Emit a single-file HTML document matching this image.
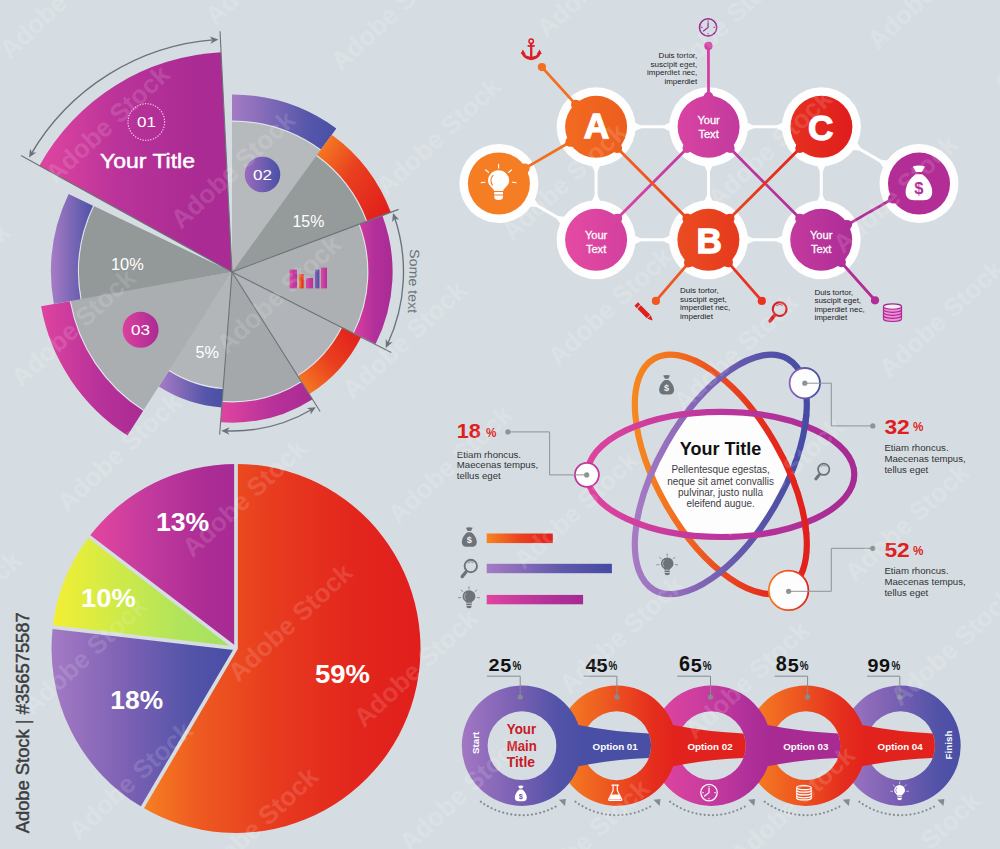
<!DOCTYPE html>
<html lang="en"><head><meta charset="utf-8"><title>Infographic charts</title>
<style>
html,body{margin:0;padding:0;background:#d6dde2;}
svg{display:block;font-family:'Liberation Sans', sans-serif;}
</style></head>
<body>
<svg width="1000" height="849" viewBox="0 0 1000 849">
<defs>
<linearGradient id="g1" gradientUnits="userSpaceOnUse" x1="232" y1="0" x2="338" y2="0"><stop offset="0" stop-color="#a57bc4"/><stop offset="0.75" stop-color="#5355a9"/><stop offset="1" stop-color="#4a50a6"/></linearGradient>
<linearGradient id="g2" gradientUnits="userSpaceOnUse" x1="318" y1="150" x2="390" y2="200"><stop offset="0" stop-color="#f57a22"/><stop offset="0.45" stop-color="#e9401f"/><stop offset="1" stop-color="#e2211c"/></linearGradient>
<linearGradient id="g3" gradientUnits="userSpaceOnUse" x1="355" y1="0" x2="393" y2="0"><stop offset="0" stop-color="#d63e9f"/><stop offset="0.5" stop-color="#b3309a"/><stop offset="1" stop-color="#a92b93"/></linearGradient>
<linearGradient id="g4" gradientUnits="userSpaceOnUse" x1="300" y1="385" x2="358" y2="335"><stop offset="0" stop-color="#f57a22"/><stop offset="0.5" stop-color="#e9401f"/><stop offset="1" stop-color="#e2211c"/></linearGradient>
<linearGradient id="g5" gradientUnits="userSpaceOnUse" x1="221" y1="0" x2="312" y2="0"><stop offset="0" stop-color="#e0449f"/><stop offset="0.55" stop-color="#b8329a"/><stop offset="1" stop-color="#a92b93"/></linearGradient>
<linearGradient id="g6" gradientUnits="userSpaceOnUse" x1="160" y1="0" x2="222" y2="0"><stop offset="0" stop-color="#a57bc4"/><stop offset="0.75" stop-color="#5355a9"/><stop offset="1" stop-color="#4a50a6"/></linearGradient>
<linearGradient id="g7" gradientUnits="userSpaceOnUse" x1="40" y1="0" x2="145" y2="0"><stop offset="0" stop-color="#e0449f"/><stop offset="0.55" stop-color="#b8329a"/><stop offset="1" stop-color="#a92b93"/></linearGradient>
<linearGradient id="g8" gradientUnits="userSpaceOnUse" x1="52" y1="0" x2="95" y2="0"><stop offset="0" stop-color="#a57bc4"/><stop offset="1" stop-color="#4a50a6"/></linearGradient>
<linearGradient id="g9" gradientUnits="userSpaceOnUse" x1="40" y1="0" x2="200" y2="0"><stop offset="0" stop-color="#e0449f"/><stop offset="0.5" stop-color="#b9339a"/><stop offset="1" stop-color="#a92b93"/></linearGradient>
<linearGradient id="g10" gradientUnits="userSpaceOnUse" x1="245" y1="0" x2="280" y2="0"><stop offset="0" stop-color="#9a6bbd"/><stop offset="1" stop-color="#4a50a6"/></linearGradient>
<linearGradient id="g11" gradientUnits="userSpaceOnUse" x1="122" y1="0" x2="159" y2="0"><stop offset="0" stop-color="#dd419e"/><stop offset="1" stop-color="#a92b93"/></linearGradient>
<linearGradient id="g12" gradientUnits="userSpaceOnUse" x1="0" y1="0" x2="1" y2="0"><stop offset="0" stop-color="#e0449f"/><stop offset="1" stop-color="#a92b93"/></linearGradient>
<linearGradient id="g13" gradientUnits="userSpaceOnUse" x1="289.6" y1="0" x2="297" y2="0"><stop offset="0" stop-color="#dd48a2"/><stop offset="1" stop-color="#b3309a"/></linearGradient>
<linearGradient id="g14" gradientUnits="userSpaceOnUse" x1="299" y1="0" x2="303.6" y2="0"><stop offset="0" stop-color="#f57a22"/><stop offset="1" stop-color="#e2211c"/></linearGradient>
<linearGradient id="g15" gradientUnits="userSpaceOnUse" x1="306" y1="0" x2="313" y2="0"><stop offset="0" stop-color="#dd48a2"/><stop offset="1" stop-color="#b3309a"/></linearGradient>
<linearGradient id="g16" gradientUnits="userSpaceOnUse" x1="315" y1="0" x2="319.4" y2="0"><stop offset="0" stop-color="#8b62b5"/><stop offset="1" stop-color="#4a50a6"/></linearGradient>
<linearGradient id="g17" gradientUnits="userSpaceOnUse" x1="321" y1="0" x2="327" y2="0"><stop offset="0" stop-color="#dd48a2"/><stop offset="1" stop-color="#b3309a"/></linearGradient>
<linearGradient id="g18" gradientUnits="userSpaceOnUse" x1="685" y1="150" x2="620" y2="216"><stop offset="0" stop-color="#c23b9f"/><stop offset="1" stop-color="#d845a4"/></linearGradient>
<linearGradient id="g19" gradientUnits="userSpaceOnUse" x1="732" y1="150" x2="798" y2="216"><stop offset="0" stop-color="#bd399e"/><stop offset="1" stop-color="#b2309a"/></linearGradient>
<linearGradient id="g20" gradientUnits="userSpaceOnUse" x1="618" y1="148" x2="686" y2="218"><stop offset="0" stop-color="#f0651f"/><stop offset="1" stop-color="#e8451f"/></linearGradient>
<linearGradient id="g21" gradientUnits="userSpaceOnUse" x1="798" y1="150" x2="732" y2="216"><stop offset="0" stop-color="#e2231d"/><stop offset="1" stop-color="#e8451f"/></linearGradient>
<linearGradient id="g22" gradientUnits="userSpaceOnUse" x1="467.9" y1="0" x2="529.9" y2="0"><stop offset="0" stop-color="#f57d23"/><stop offset="1" stop-color="#f57d23"/></linearGradient>
<linearGradient id="g23" gradientUnits="userSpaceOnUse" x1="565.1" y1="0" x2="627.1" y2="0"><stop offset="0" stop-color="#f26a20"/><stop offset="1" stop-color="#ec5d1e"/></linearGradient>
<linearGradient id="g24" gradientUnits="userSpaceOnUse" x1="677.6" y1="0" x2="739.6" y2="0"><stop offset="0" stop-color="#d943a2"/><stop offset="1" stop-color="#c23a9e"/></linearGradient>
<linearGradient id="g25" gradientUnits="userSpaceOnUse" x1="790.4" y1="0" x2="852.4" y2="0"><stop offset="0" stop-color="#e6301f"/><stop offset="1" stop-color="#e01d1d"/></linearGradient>
<linearGradient id="g26" gradientUnits="userSpaceOnUse" x1="888" y1="0" x2="950" y2="0"><stop offset="0" stop-color="#b22d96"/><stop offset="1" stop-color="#b22d96"/></linearGradient>
<linearGradient id="g27" gradientUnits="userSpaceOnUse" x1="565.1" y1="0" x2="627.1" y2="0"><stop offset="0" stop-color="#e44aa2"/><stop offset="1" stop-color="#d3409f"/></linearGradient>
<linearGradient id="g28" gradientUnits="userSpaceOnUse" x1="677.4" y1="0" x2="739.4" y2="0"><stop offset="0" stop-color="#eb4c20"/><stop offset="1" stop-color="#e53a1e"/></linearGradient>
<linearGradient id="g29" gradientUnits="userSpaceOnUse" x1="790.2" y1="0" x2="852.2" y2="0"><stop offset="0" stop-color="#c43a9e"/><stop offset="1" stop-color="#ad2d97"/></linearGradient>
<clipPath id="ce0"><ellipse cx="720.8" cy="474.4" rx="133.5" ry="62.6" transform="rotate(0 720.8 474.4)"/></clipPath>
<clipPath id="ce1"><ellipse cx="720.8" cy="474.4" rx="133.5" ry="62.6" transform="rotate(60 720.8 474.4)"/></clipPath>
<clipPath id="ce2"><ellipse cx="720.8" cy="474.4" rx="133.5" ry="62.6" transform="rotate(-60 720.8 474.4)"/></clipPath>
<linearGradient id="g30" gradientUnits="userSpaceOnUse" x1="631" y1="0" x2="811" y2="0" gradientTransform="rotate(-60 720.8 474.4)"><stop offset="0" stop-color="#f68a1f"/><stop offset="0.25" stop-color="#f26f21"/><stop offset="0.5" stop-color="#ea4a20"/><stop offset="0.75" stop-color="#e52c1d"/><stop offset="1" stop-color="#e11f1c"/></linearGradient>
<linearGradient id="g31" gradientUnits="userSpaceOnUse" x1="631" y1="0" x2="811" y2="0" gradientTransform="rotate(60 720.8 474.4)"><stop offset="0" stop-color="#a77cc4"/><stop offset="0.3" stop-color="#8d69b9"/><stop offset="0.6" stop-color="#6659ad"/><stop offset="0.85" stop-color="#4c4fa6"/><stop offset="1" stop-color="#454ba3"/></linearGradient>
<linearGradient id="g32" gradientUnits="userSpaceOnUse" x1="580.8" y1="0" x2="860.8" y2="0"><stop offset="0" stop-color="#e0449f"/><stop offset="0.5" stop-color="#bb369c"/><stop offset="1" stop-color="#a52a93"/></linearGradient>
<clipPath id="cw1"><circle cx="806.6" cy="421.5" r="8"/></clipPath>
<clipPath id="cw2"><circle cx="794.2" cy="474.4" r="8"/></clipPath>
<clipPath id="cw3"><circle cx="806.6" cy="527" r="8"/></clipPath>
<linearGradient id="g33" gradientUnits="userSpaceOnUse" x1="789" y1="0" x2="821" y2="0"><stop offset="0" stop-color="#8b63b7"/><stop offset="1" stop-color="#454ba3"/></linearGradient>
<linearGradient id="g34" gradientUnits="userSpaceOnUse" x1="768" y1="0" x2="809" y2="0"><stop offset="0" stop-color="#f47a20"/><stop offset="1" stop-color="#e1221c"/></linearGradient>
<linearGradient id="g35" gradientUnits="userSpaceOnUse" x1="486.7" y1="0" x2="552.8" y2="0"><stop offset="0" stop-color="#f68520"/><stop offset="0.5" stop-color="#ea4320"/><stop offset="1" stop-color="#e1221c"/></linearGradient>
<linearGradient id="g36" gradientUnits="userSpaceOnUse" x1="486.7" y1="0" x2="611.9" y2="0"><stop offset="0" stop-color="#a67bc4"/><stop offset="0.6" stop-color="#5f58ab"/><stop offset="1" stop-color="#454ba3"/></linearGradient>
<linearGradient id="g37" gradientUnits="userSpaceOnUse" x1="486.7" y1="0" x2="583.1" y2="0"><stop offset="0" stop-color="#e0449f"/><stop offset="0.6" stop-color="#b5329a"/><stop offset="1" stop-color="#a52a93"/></linearGradient>
<linearGradient id="g38" gradientUnits="userSpaceOnUse" x1="840.48" y1="0" x2="960.48" y2="0"><stop offset="0" stop-color="#a277c3"/><stop offset="0.45" stop-color="#7a60b3"/><stop offset="0.8" stop-color="#5253a8"/><stop offset="1" stop-color="#494fa5"/></linearGradient>
<linearGradient id="g39" gradientUnits="userSpaceOnUse" x1="745.86" y1="0" x2="865.86" y2="0"><stop offset="0" stop-color="#f68420"/><stop offset="0.4" stop-color="#ee5a21"/><stop offset="0.8" stop-color="#e52e1d"/><stop offset="1" stop-color="#e2221c"/></linearGradient>
<linearGradient id="g40" gradientUnits="userSpaceOnUse" x1="651.24" y1="0" x2="771.24" y2="0"><stop offset="0" stop-color="#e3469f"/><stop offset="0.45" stop-color="#c83c9e"/><stop offset="0.8" stop-color="#b0309a"/><stop offset="1" stop-color="#a82a93"/></linearGradient>
<linearGradient id="g41" gradientUnits="userSpaceOnUse" x1="556.62" y1="0" x2="676.62" y2="0"><stop offset="0" stop-color="#f68420"/><stop offset="0.4" stop-color="#ee5a21"/><stop offset="0.8" stop-color="#e52e1d"/><stop offset="1" stop-color="#e2221c"/></linearGradient>
<linearGradient id="g42" gradientUnits="userSpaceOnUse" x1="462" y1="0" x2="582" y2="0"><stop offset="0" stop-color="#a277c3"/><stop offset="0.45" stop-color="#7a60b3"/><stop offset="0.8" stop-color="#5253a8"/><stop offset="1" stop-color="#494fa5"/></linearGradient>
<linearGradient id="g43" gradientUnits="userSpaceOnUse" x1="143" y1="0" x2="420" y2="0"><stop offset="0" stop-color="#f68021"/><stop offset="0.2" stop-color="#ee5a21"/><stop offset="0.45" stop-color="#e83d1f"/><stop offset="0.75" stop-color="#e3271d"/><stop offset="1" stop-color="#e11e1c"/></linearGradient>
<linearGradient id="g44" gradientUnits="userSpaceOnUse" x1="51" y1="0" x2="236" y2="0"><stop offset="0" stop-color="#a47ac4"/><stop offset="0.4" stop-color="#7d61b4"/><stop offset="0.75" stop-color="#5354a9"/><stop offset="1" stop-color="#474da4"/></linearGradient>
<linearGradient id="g45" gradientUnits="userSpaceOnUse" x1="53" y1="0" x2="236" y2="0"><stop offset="0" stop-color="#f3ef33"/><stop offset="0.35" stop-color="#cfea48"/><stop offset="0.7" stop-color="#b0e45c"/><stop offset="1" stop-color="#a4e063"/></linearGradient>
<linearGradient id="g46" gradientUnits="userSpaceOnUse" x1="91" y1="0" x2="236" y2="0"><stop offset="0" stop-color="#e3469f"/><stop offset="0.4" stop-color="#c23a9d"/><stop offset="0.8" stop-color="#ab2c95"/><stop offset="1" stop-color="#a82a93"/></linearGradient>
</defs>
<rect x="0" y="0" width="1000" height="849" fill="#d6dde2"/>
<g id="pie-top">
<path d="M232,272 L232,121.4 A150.6,150.6 0 0 1 321.16,150.63 Z" fill="#b7babd"/>
<path d="M232,120 A152,152 0 0 1 321.34,149.03 L320.46,150.24 A150.5,150.5 0 0 0 232,121.5 Z" fill="#e2e4ec"/>
<path d="M232,94.5 A177.5,177.5 0 0 1 336.33,128.4 L321.05,149.43 A151.5,151.5 0 0 0 232,120.5 Z" fill="url(#g1)"/>
<path d="M232,272 L316.41,155.83 A143.6,143.6 0 0 1 366.68,222.18 Z" fill="#959a9b"/>
<path d="M317.23,154.69 A145,145 0 0 1 367.73,220.98 L366.32,221.51 A143.5,143.5 0 0 0 316.35,155.91 Z" fill="#e2e4ec"/>
<path d="M331.75,134.71 A169.7,169.7 0 0 1 390.85,212.29 L367.26,221.16 A144.5,144.5 0 0 0 316.93,155.1 Z" fill="url(#g2)"/>
<path d="M232,272 L358.84,224.33 A135.5,135.5 0 0 1 352.84,333.3 Z" fill="#adb0b3"/>
<path d="M360.15,223.83 A136.9,136.9 0 0 1 354.41,333.3 L353.07,332.63 A135.4,135.4 0 0 0 358.74,224.36 Z" fill="#e2e4ec"/>
<path d="M382.33,215.49 A160.6,160.6 0 0 1 375.6,343.91 L353.96,333.07 A136.4,136.4 0 0 0 359.68,224.01 Z" fill="url(#g3)"/>
<path d="M232,272 L341.44,326.81 A122.4,122.4 0 0 1 297.04,375.69 Z" fill="#b1b4b8"/>
<path d="M342.7,327.43 A123.8,123.8 0 0 1 298.34,376.53 L297.53,375.26 A122.3,122.3 0 0 0 341.36,326.76 Z" fill="#e2e4ec"/>
<path d="M361.29,336.75 A144.6,144.6 0 0 1 309.48,394.09 L298.07,376.11 A123.3,123.3 0 0 0 342.25,327.21 Z" fill="url(#g4)"/>
<path d="M232,272 L301.39,381.34 A129.5,129.5 0 0 1 221.61,401.08 Z" fill="#a5a8ab"/>
<path d="M302.14,382.52 A130.9,130.9 0 0 1 222.19,402.53 L222.3,401.04 A129.4,129.4 0 0 0 301.34,381.26 Z" fill="#e2e4ec"/>
<path d="M312.7,399.16 A150.6,150.6 0 0 1 220.71,422.18 L222.22,402.03 A130.4,130.4 0 0 0 301.87,382.1 Z" fill="url(#g5)"/>
<path d="M232,272 L223.26,388.17 A116.5,116.5 0 0 1 168.72,369.82 Z" fill="#b3b6b9"/>
<path d="M223.16,389.57 A117.9,117.9 0 0 1 168.48,371.33 L169.29,370.06 A116.4,116.4 0 0 0 223.27,388.07 Z" fill="#e2e4ec"/>
<path d="M221.82,407.42 A135.8,135.8 0 0 1 158.83,386.41 L168.75,370.9 A117.4,117.4 0 0 0 223.2,389.07 Z" fill="url(#g6)"/>
<path d="M232,272 L143.7,410.08 A163.9,163.9 0 0 1 70.54,300.18 Z" fill="#abaeb1"/>
<path d="M142.94,411.26 A165.3,165.3 0 0 1 69.31,301.27 L70.79,301.01 A163.8,163.8 0 0 0 143.75,409.99 Z" fill="#e2e4ec"/>
<path d="M127.48,435.44 A194,194 0 0 1 41.07,306.35 L69.8,301.18 A164.8,164.8 0 0 0 143.21,410.84 Z" fill="url(#g7)"/>
<path d="M232,272 L81.32,299.11 A153.1,153.1 0 0 1 93.81,206.09 Z" fill="#939898"/>
<path d="M79.94,299.36 A154.5,154.5 0 0 1 92.55,205.49 L93.9,206.13 A153,153 0 0 0 81.42,299.09 Z" fill="#e2e4ec"/>
<path d="M53.86,304.05 A181,181 0 0 1 68.63,194.08 L93,205.7 A154,154 0 0 0 80.43,299.27 Z" fill="url(#g8)"/>
<path d="M232,272 L39.4,165.68 A220,220 0 0 1 221.06,52.27 Z" fill="url(#g9)"/>
<line x1="232" y1="272" x2="220.02" y2="31.3" stroke="#6b7378" stroke-width="1.1"/>
<line x1="232" y1="272" x2="21.01" y2="155.53" stroke="#6b7378" stroke-width="1.1"/>
<line x1="232" y1="272" x2="398.62" y2="209.37" stroke="#6b7378" stroke-width="1.1"/>
<line x1="232" y1="272" x2="391.33" y2="352.48" stroke="#6b7378" stroke-width="1.1"/>
<line x1="232" y1="272" x2="320.17" y2="411.47" stroke="#6b7378" stroke-width="1.1"/>
<line x1="232" y1="272" x2="219.64" y2="434.53" stroke="#6b7378" stroke-width="1.1"/>
<path d="M30.42,155.15 A233,233 0 0 1 215.54,39.58" fill="none" stroke="#6b7378" stroke-width="1.35"/>
<path d="M29.01,157.62 L30.04,148.68 L32.04,152.55 L36.39,152.48 Z" fill="#6b7378"/>
<path d="M218.38,39.4 L210.53,43.78 L212.5,39.9 L209.9,36.4 Z" fill="#6b7378"/>
<path d="M394.35,216.73 A171.5,171.5 0 0 1 387.43,344.48" fill="none" stroke="#6b7378" stroke-width="1.35"/>
<path d="M393.05,213.06 L399.18,219.65 L394.94,218.66 L392.16,222.01 Z" fill="#6b7378"/>
<path d="M385.75,347.99 L385.83,338.99 L388.22,342.63 L392.55,342.09 Z" fill="#6b7378"/>
<path d="M312.7,409 A159,159 0 0 1 224.93,430.84" fill="none" stroke="#6b7378" stroke-width="1.35"/>
<path d="M315.79,407.13 L310.57,414.46 L310.69,410.11 L306.84,408.08 Z" fill="#6b7378"/>
<path d="M221.32,430.64 L229.67,427.28 L227.22,430.88 L229.37,434.67 Z" fill="#6b7378"/>
<circle cx="146.3" cy="122" r="18.3" fill="none" stroke="#f6d3ec" stroke-width="1.3" stroke-dasharray="0.1 2.55" stroke-linecap="round"/>
<text x="146.6" y="127" font-size="14" fill="#fff" font-weight="normal" text-anchor="middle" textLength="19" lengthAdjust="spacingAndGlyphs">01</text>
<text x="147.5" y="167.5" font-size="20" fill="#fff" font-weight="normal" text-anchor="middle" stroke="#fff" stroke-width="0.45" textLength="95" lengthAdjust="spacingAndGlyphs">Your Title</text>
<circle cx="262.5" cy="174.5" r="17.8" fill="url(#g10)"/>
<text x="262.5" y="179.5" font-size="14" fill="#fff" font-weight="normal" text-anchor="middle" textLength="19" lengthAdjust="spacingAndGlyphs">02</text>
<circle cx="140.6" cy="329.8" r="18" fill="url(#g11)"/>
<text x="140.6" y="334.8" font-size="14" fill="#fff" font-weight="normal" text-anchor="middle" textLength="19" lengthAdjust="spacingAndGlyphs">03</text>
<text x="308.4" y="226.5" font-size="17.3" fill="#fff" font-weight="normal" text-anchor="middle" textLength="31.8" lengthAdjust="spacingAndGlyphs">15%</text>
<text x="127.4" y="269.8" font-size="17.3" fill="#fff" font-weight="normal" text-anchor="middle" textLength="32.8" lengthAdjust="spacingAndGlyphs">10%</text>
<text x="207.3" y="357.8" font-size="17.3" fill="#fff" font-weight="normal" text-anchor="middle" textLength="23.5" lengthAdjust="spacingAndGlyphs">5%</text>
<text transform="translate(408.9,281) rotate(92)" font-size="13.5" fill="#6b7378" text-anchor="middle" textLength="64" lengthAdjust="spacingAndGlyphs">Some text</text>
<rect x="289.6" y="269.6" width="7.4" height="18.8" fill="url(#g13)"/>
<rect x="299" y="274" width="4.6" height="14.4" fill="url(#g14)"/>
<rect x="306" y="278" width="7" height="10.4" fill="url(#g15)"/>
<rect x="315" y="269.6" width="4.4" height="18.8" fill="url(#g16)"/>
<rect x="321" y="267.6" width="6" height="20.8" fill="url(#g17)"/>
</g>
<g id="network">
<line x1="596.1" y1="126.8" x2="708.6" y2="126.8" stroke="#fefefe" stroke-width="3"/>
<path d="M634.6,131.2 Q637.8,129.5 641,128.2 L641,125.4 Q637.8,124.1 634.6,122.4 Z" fill="#fefefe"/>
<path d="M670.1,122.4 Q666.9,124.1 663.7,125.4 L663.7,128.2 Q666.9,129.5 670.1,131.2 Z" fill="#fefefe"/>
<line x1="708.6" y1="126.8" x2="821.4" y2="126.8" stroke="#fefefe" stroke-width="3"/>
<path d="M747.1,131.2 Q750.3,129.5 753.5,128.2 L753.5,125.4 Q750.3,124.1 747.1,122.4 Z" fill="#fefefe"/>
<path d="M782.9,122.4 Q779.7,124.1 776.5,125.4 L776.5,128.2 Q779.7,129.5 782.9,131.2 Z" fill="#fefefe"/>
<line x1="596.1" y1="239.8" x2="708.4" y2="239.8" stroke="#fefefe" stroke-width="3"/>
<path d="M634.6,244.2 Q637.8,242.5 641,241.2 L641,238.4 Q637.8,237.1 634.6,235.4 Z" fill="#fefefe"/>
<path d="M669.9,235.4 Q666.7,237.1 663.5,238.4 L663.5,241.2 Q666.7,242.5 669.9,244.2 Z" fill="#fefefe"/>
<line x1="708.4" y1="239.8" x2="821.2" y2="239.8" stroke="#fefefe" stroke-width="3"/>
<path d="M746.9,244.2 Q750.1,242.5 753.3,241.2 L753.3,238.4 Q750.1,237.1 746.9,235.4 Z" fill="#fefefe"/>
<path d="M782.7,235.4 Q779.5,237.1 776.3,238.4 L776.3,241.2 Q779.5,242.5 782.7,244.2 Z" fill="#fefefe"/>
<line x1="596.1" y1="126.8" x2="596.1" y2="239.8" stroke="#fefefe" stroke-width="3"/>
<path d="M591.7,165.3 Q593.4,168.5 594.7,171.7 L597.5,171.7 Q598.8,168.5 600.5,165.3 Z" fill="#fefefe"/>
<path d="M600.5,201.3 Q598.8,198.1 597.5,194.9 L594.7,194.9 Q593.4,198.1 591.7,201.3 Z" fill="#fefefe"/>
<line x1="708.6" y1="126.8" x2="708.4" y2="239.8" stroke="#fefefe" stroke-width="3"/>
<path d="M704.13,165.29 Q705.83,168.5 707.12,171.7 L709.92,171.7 Q711.23,168.5 712.93,165.31 Z" fill="#fefefe"/>
<path d="M712.87,201.31 Q711.17,198.1 709.88,194.9 L707.08,194.9 Q705.77,198.1 704.07,201.29 Z" fill="#fefefe"/>
<line x1="821.4" y1="126.8" x2="821.2" y2="239.8" stroke="#fefefe" stroke-width="3"/>
<path d="M816.93,165.29 Q818.63,168.5 819.92,171.7 L822.72,171.7 Q824.03,168.5 825.73,165.31 Z" fill="#fefefe"/>
<path d="M825.67,201.31 Q823.97,198.1 822.68,194.9 L819.88,194.9 Q818.57,198.1 816.87,201.29 Z" fill="#fefefe"/>
<line x1="498.9" y1="183.5" x2="596.1" y2="239.8" stroke="#fefefe" stroke-width="3"/>
<path d="M530.01,206.6 Q533.63,206.74 537.05,207.22 L538.45,204.79 Q536.34,202.06 534.42,198.99 Z" fill="#fefefe"/>
<path d="M564.99,216.7 Q561.37,216.56 557.95,216.08 L556.55,218.51 Q558.66,221.24 560.58,224.31 Z" fill="#fefefe"/>
<line x1="821.4" y1="126.8" x2="919" y2="183.6" stroke="#fefefe" stroke-width="3"/>
<path d="M852.46,149.97 Q856.08,150.11 859.5,150.59 L860.91,148.17 Q858.8,145.44 856.89,142.36 Z" fill="#fefefe"/>
<path d="M887.94,160.43 Q884.32,160.29 880.9,159.81 L879.49,162.23 Q881.6,164.96 883.51,168.04 Z" fill="#fefefe"/>
<circle cx="498.9" cy="183.5" r="39.5" fill="#fefefe"/>
<circle cx="596.1" cy="126.8" r="39.5" fill="#fefefe"/>
<circle cx="708.6" cy="126.8" r="39.5" fill="#fefefe"/>
<circle cx="821.4" cy="126.8" r="39.5" fill="#fefefe"/>
<circle cx="919" cy="183.6" r="39.5" fill="#fefefe"/>
<circle cx="596.1" cy="239.8" r="39.5" fill="#fefefe"/>
<circle cx="708.4" cy="239.8" r="39.5" fill="#fefefe"/>
<circle cx="821.2" cy="239.8" r="39.5" fill="#fefefe"/>
<line x1="687.43" y1="148.06" x2="617.27" y2="218.54" stroke="url(#g18)" stroke-width="2.8" stroke-linecap="round"/>
<path d="M683.61,144.25 Q681.85,148.14 682.98,150.69 L684.83,152.52 Q687.38,153.65 691.26,151.87 Z" fill="#d542a1"/>
<path d="M621.09,222.35 Q622.85,218.46 621.72,215.91 L619.87,214.08 Q617.32,212.95 613.44,214.73 Z" fill="#d6429f"/>
<line x1="729.78" y1="148.05" x2="800.02" y2="218.55" stroke="url(#g19)" stroke-width="2.8" stroke-linecap="round"/>
<path d="M725.95,151.86 Q729.84,153.64 732.38,152.51 L734.23,150.67 Q735.36,148.13 733.6,144.24 Z" fill="#c63b9f"/>
<path d="M803.85,214.74 Q799.96,212.96 797.42,214.09 L795.57,215.93 Q794.44,218.47 796.2,222.36 Z" fill="#c0389d"/>
<line x1="617.25" y1="148.08" x2="687.25" y2="218.52" stroke="url(#g20)" stroke-width="2.8" stroke-linecap="round"/>
<path d="M613.42,151.89 Q617.3,153.67 619.85,152.54 L621.69,150.71 Q622.83,148.17 621.08,144.27 Z" fill="#ed5f1e"/>
<path d="M691.08,214.71 Q687.2,212.93 684.65,214.06 L682.81,215.89 Q681.67,218.43 683.42,222.33 Z" fill="#ea4920"/>
<line x1="800.19" y1="148.01" x2="729.61" y2="218.59" stroke="url(#g21)" stroke-width="2.8" stroke-linecap="round"/>
<path d="M796.37,144.19 Q794.6,148.08 795.73,150.63 L797.57,152.47 Q800.12,153.6 804.01,151.83 Z" fill="#e52d1f"/>
<path d="M733.43,222.41 Q735.2,218.52 734.07,215.97 L732.23,214.13 Q729.68,213 725.79,214.77 Z" fill="#e63d1e"/>
<line x1="524.81" y1="168.38" x2="570.19" y2="141.92" stroke="#f2701f" stroke-width="2.8" stroke-linecap="round"/>
<path d="M527.53,173.05 Q530.23,169.74 529.79,166.99 L528.48,164.74 Q526.3,163 522.09,163.72 Z" fill="#f57d23"/>
<path d="M567.47,137.25 Q564.77,140.56 565.21,143.31 L566.52,145.56 Q568.7,147.3 572.91,146.58 Z" fill="#f26920"/>
<line x1="847.21" y1="224.85" x2="892.99" y2="198.55" stroke="#b22d96" stroke-width="2.8" stroke-linecap="round"/>
<path d="M849.9,229.53 Q852.62,226.24 852.19,223.49 L850.9,221.23 Q848.74,219.48 844.52,220.17 Z" fill="#af2e98"/>
<path d="M890.3,193.87 Q887.58,197.16 888.01,199.91 L889.3,202.17 Q891.46,203.92 895.68,203.23 Z" fill="#b22d96"/>
<line x1="541.9" y1="67.1" x2="575.93" y2="104.59" stroke="#f2701f" stroke-width="2.8" stroke-linecap="round"/>
<circle cx="541.9" cy="67.1" r="4.1" fill="#f2701f"/>
<path d="M579.93,100.96 Q576.13,99.01 573.54,100.01 L571.61,101.76 Q570.36,104.25 571.94,108.22 Z" fill="#f16820"/>
<line x1="708.4" y1="45.9" x2="708.53" y2="96.8" stroke="#d43fa2" stroke-width="2.8" stroke-linecap="round"/>
<circle cx="708.4" cy="45.9" r="4.1" fill="#d43fa2"/>
<path d="M713.93,96.79 Q712.42,92.79 709.81,91.8 L707.21,91.8 Q704.62,92.81 703.13,96.81 Z" fill="#ce3fa0"/>
<line x1="655.9" y1="300.9" x2="688.85" y2="262.55" stroke="#ee5823" stroke-width="2.8" stroke-linecap="round"/>
<circle cx="655.9" cy="300.9" r="4.1" fill="#ee5823"/>
<path d="M684.75,259.03 Q683.28,263.05 684.6,265.5 L686.58,267.19 Q689.2,268.13 692.94,266.07 Z" fill="#ea4920"/>
<line x1="761.8" y1="300.9" x2="728.14" y2="262.39" stroke="#ea3222" stroke-width="2.8" stroke-linecap="round"/>
<circle cx="761.8" cy="300.9" r="4.1" fill="#ea3222"/>
<path d="M724.08,265.94 Q727.84,267.97 730.45,267.01 L732.41,265.3 Q733.71,262.83 732.21,258.84 Z" fill="#e63d1e"/>
<line x1="875" y1="300.3" x2="841.14" y2="262.22" stroke="#b22d96" stroke-width="2.8" stroke-linecap="round"/>
<circle cx="875" cy="300.3" r="4.1" fill="#b22d96"/>
<path d="M837.1,265.81 Q840.88,267.8 843.49,266.82 L845.43,265.09 Q846.71,262.62 845.17,258.63 Z" fill="#b12f98"/>
<circle cx="498.9" cy="183.5" r="31.0" fill="url(#g22)"/>
<circle cx="596.1" cy="126.8" r="31.0" fill="url(#g23)"/>
<circle cx="708.6" cy="126.8" r="31.0" fill="url(#g24)"/>
<circle cx="821.4" cy="126.8" r="31.0" fill="url(#g25)"/>
<circle cx="919" cy="183.6" r="31.0" fill="url(#g26)"/>
<circle cx="596.1" cy="239.8" r="31.0" fill="url(#g27)"/>
<circle cx="708.4" cy="239.8" r="31.0" fill="url(#g28)"/>
<circle cx="821.2" cy="239.8" r="31.0" fill="url(#g29)"/>
<text x="596.5" y="137.5" font-size="35.2" fill="#fff" font-weight="bold" text-anchor="middle" stroke="#fff" stroke-width="1.3" stroke-linejoin="miter">A</text>
<text x="709.1" y="252.6" font-size="35.2" fill="#fff" font-weight="bold" text-anchor="middle" stroke="#fff" stroke-width="1.3" stroke-linejoin="miter">B</text>
<text x="820.8" y="139.8" font-size="35.2" fill="#fff" font-weight="bold" text-anchor="middle" stroke="#fff" stroke-width="1.3" stroke-linejoin="miter">C</text>
<text x="708.6" y="124.2" font-size="11.1" fill="#fff" font-weight="normal" text-anchor="middle" stroke="#fff" stroke-width="0.3">Your</text>
<text x="708.6" y="137.9" font-size="11.1" fill="#fff" font-weight="normal" text-anchor="middle" stroke="#fff" stroke-width="0.3">Text</text>
<text x="596.1" y="238.8" font-size="11.1" fill="#fff" font-weight="normal" text-anchor="middle" stroke="#fff" stroke-width="0.3">Your</text>
<text x="596.1" y="252.6" font-size="11.1" fill="#fff" font-weight="normal" text-anchor="middle" stroke="#fff" stroke-width="0.3">Text</text>
<text x="821.2" y="238.8" font-size="11.1" fill="#fff" font-weight="normal" text-anchor="middle" stroke="#fff" stroke-width="0.3">Your</text>
<text x="821.2" y="252.6" font-size="11.1" fill="#fff" font-weight="normal" text-anchor="middle" stroke="#fff" stroke-width="0.3">Text</text>
<g transform="translate(498.6,183.5)"><path d="M-4.6,7.4 C-4.6,4.8 -10.6,2.6 -10.6,-2.7 A10.6,10.6 0 1 1 10.6,-2.7 C10.6,2.6 4.6,4.8 4.6,7.4 Z" fill="#fff"/><path d="M-4.4,8.6 L4.4,8.6 L4.4,10.9 L-4.4,10.9 Z M-4.4,12.1 L4.4,12.1 L4.4,13.2 Q4.4,16.4 0,16.4 Q-4.4,16.4 -4.4,13.2 Z" fill="#fff"/><path d="M-5.6,-8.2 A7.6,7.6 0 0 0 -6.2,1.6" fill="none" stroke="#f57d23" stroke-width="1.1" stroke-linecap="round"/><line x1="0" y1="-15.5" x2="0" y2="-19.1" stroke="#fff" stroke-width="1.2" stroke-linecap="round"/><line x1="10.11" y1="-11.18" x2="12.87" y2="-13.5" stroke="#fff" stroke-width="1.2" stroke-linecap="round"/><line x1="-10.11" y1="-11.18" x2="-12.87" y2="-13.5" stroke="#fff" stroke-width="1.2" stroke-linecap="round"/><line x1="13.72" y1="-1.26" x2="17.3" y2="-0.88" stroke="#fff" stroke-width="1.2" stroke-linecap="round"/><line x1="-13.72" y1="-1.26" x2="-17.3" y2="-0.88" stroke="#fff" stroke-width="1.2" stroke-linecap="round"/></g>
<g transform="translate(918.9,183.6)"><path d="M-6.1,-17.2 Q0,-19.2 6.1,-17.2 L3,-11.6 L-3,-11.6 Z" fill="#fff"/><path d="M-3.2,-9.4 L3.2,-9.4 C8.5,-6 13.3,1.5 13.3,8.2 C13.3,14.4 9.4,16.6 5,16.6 L-5,16.6 C-9.4,16.6 -13.3,14.4 -13.3,8.2 C-13.3,1.5 -8.5,-6 -3.2,-9.4 Z" fill="#fff"/><text x="0" y="10.6" font-size="16.5" font-weight="bold" text-anchor="middle" fill="#b22d96">$</text></g>
<g transform="translate(531.2,50)"><circle cx="0" cy="-8.8" r="2.2" fill="none" stroke="#dc1e28" stroke-width="1.5"/><rect x="-1.15" y="-6.6" width="2.3" height="15.6" fill="#dc1e28"/><rect x="-3.6" y="-4.9" width="7.2" height="1.7" fill="#dc1e28"/><path d="M-9.6,3 Q-8.6,8.6 0,10.2 Q8.6,8.6 9.6,3 L6.6,3.6 Q5.6,6.2 0,6.9 Q-5.6,6.2 -6.6,3.6 Z" fill="#dc1e28"/><path d="M-10.6,3.9 L-8.4,-0.4 L-5.4,4.2 Z M10.6,3.9 L8.4,-0.4 L5.4,4.2 Z" fill="#dc1e28"/></g>
<g transform="translate(708.1,27.4)"><circle cx="0" cy="0" r="8.6" fill="none" stroke="#97298e" stroke-width="1.5"/><line x1="5.6" y1="0" x2="6.9" y2="0" stroke="#97298e" stroke-width="1.1"/><line x1="0" y1="5.6" x2="0" y2="6.9" stroke="#97298e" stroke-width="1.1"/><line x1="-5.6" y1="0" x2="-6.9" y2="0" stroke="#97298e" stroke-width="1.1"/><line x1="-0" y1="-5.6" x2="-0" y2="-6.9" stroke="#97298e" stroke-width="1.1"/><path d="M0,-4.6 L0,0 L-4.6,3.6" fill="none" stroke="#97298e" stroke-width="1.2" stroke-linecap="round" stroke-linejoin="round"/></g>
<g transform="translate(636.2,304.1) rotate(45)"><path d="M0,-2.5 L3.2,-2.5 L3.2,2.5 L0,2.5 Z" fill="#df2020"/><path d="M4.1,-2.5 L17.4,-2.5 L17.4,2.5 L4.1,2.5 Z" fill="#df2020"/><path d="M18.3,-2.5 L23.3,0 L18.3,2.5 Z" fill="#df2020"/></g>
<g transform="translate(779.7,309.1)"><circle cx="0" cy="0" r="6.9" fill="none" stroke="#d71e23" stroke-width="2.1"/><line x1="-5.4" y1="6.6" x2="-9.6" y2="11.8" stroke="#d71e23" stroke-width="3.6" stroke-linecap="round"/><path d="M-3.2,-3.6 A4.8,4.8 0 0 1 2.6,-4" fill="none" stroke="#d71e23" stroke-width="0.8" stroke-linecap="round"/></g>
<g transform="translate(892.5,313.2)"><path d="M-9.1,2.5 A9.1,2.7 0 0 0 9.1,2.5 L9.1,5.6 A9.1,2.7 0 0 1 -9.1,5.6 Z" fill="#f58fd9"/><path d="M-9.1,5.6 A9.1,2.7 0 0 0 9.1,5.6" fill="none" stroke="#a3288f" stroke-width="1.15"/><path d="M-9.1,-0.7 A9.1,2.7 0 0 0 9.1,-0.7 L9.1,2.4 A9.1,2.7 0 0 1 -9.1,2.4 Z" fill="#f58fd9"/><path d="M-9.1,2.4 A9.1,2.7 0 0 0 9.1,2.4" fill="none" stroke="#a3288f" stroke-width="1.15"/><path d="M-9.1,-3.7 A9.1,2.7 0 0 0 9.1,-3.7 L9.1,-0.6 A9.1,2.7 0 0 1 -9.1,-0.6 Z" fill="#f58fd9"/><path d="M-9.1,-0.6 A9.1,2.7 0 0 0 9.1,-0.6" fill="none" stroke="#a3288f" stroke-width="1.15"/><path d="M-9.1,-6.7 A9.1,2.7 0 0 0 9.1,-6.7 L9.1,-3.6 A9.1,2.7 0 0 1 -9.1,-3.6 Z" fill="#f58fd9"/><path d="M-9.1,-3.6 A9.1,2.7 0 0 0 9.1,-3.6" fill="none" stroke="#a3288f" stroke-width="1.15"/><path d="M-9.1,-6.6 L-9.1,5.6 M9.1,-6.6 L9.1,5.6" stroke="#a3288f" stroke-width="1" fill="none"/><ellipse cx="0" cy="-6.6" rx="9.1" ry="2.7" fill="#eef0f3" stroke="#a3288f" stroke-width="1.1"/></g>
<text x="697.3" y="58" font-size="8.0" fill="#202024" font-weight="normal" text-anchor="end" >Duis tortor,</text>
<text x="697.3" y="66.55" font-size="8.0" fill="#202024" font-weight="normal" text-anchor="end" >suscipit eget,</text>
<text x="697.3" y="75.1" font-size="8.0" fill="#202024" font-weight="normal" text-anchor="end" >imperdiet nec,</text>
<text x="697.3" y="83.65" font-size="8.0" fill="#202024" font-weight="normal" text-anchor="end" >imperdiet</text>
<text x="680" y="293.1" font-size="8.0" fill="#202024" font-weight="normal" text-anchor="start" >Duis tortor,</text>
<text x="680" y="301.65" font-size="8.0" fill="#202024" font-weight="normal" text-anchor="start" >suscipit eget,</text>
<text x="680" y="310.2" font-size="8.0" fill="#202024" font-weight="normal" text-anchor="start" >imperdiet nec,</text>
<text x="680" y="318.75" font-size="8.0" fill="#202024" font-weight="normal" text-anchor="start" >imperdiet</text>
<text x="814.4" y="294.7" font-size="8.0" fill="#202024" font-weight="normal" text-anchor="start" >Duis tortor,</text>
<text x="814.4" y="303.25" font-size="8.0" fill="#202024" font-weight="normal" text-anchor="start" >suscipit eget,</text>
<text x="814.4" y="311.8" font-size="8.0" fill="#202024" font-weight="normal" text-anchor="start" >imperdiet nec,</text>
<text x="814.4" y="320.35" font-size="8.0" fill="#202024" font-weight="normal" text-anchor="start" >imperdiet</text>
</g>
<g id="orbit">
<g clip-path="url(#ce0)"><g clip-path="url(#ce1)"><g clip-path="url(#ce2)"><rect x="620" y="390" width="200" height="170" fill="#fdfdfe"/></g></g></g>
<ellipse cx="720.8" cy="474.4" rx="133.5" ry="62.6" fill="none" stroke="url(#g30)" stroke-width="6.2" transform="rotate(60 720.8 474.4)" />
<ellipse cx="720.8" cy="474.4" rx="133.5" ry="62.6" fill="none" stroke="url(#g31)" stroke-width="6.2" transform="rotate(-60 720.8 474.4)" />
<ellipse cx="720.8" cy="474.4" rx="133.5" ry="62.6" fill="none" stroke="url(#g32)" stroke-width="6.2" transform="rotate(0 720.8 474.4)" />
<g clip-path="url(#cw1)"><ellipse cx="720.8" cy="474.4" rx="133.5" ry="62.6" fill="none" stroke="url(#g31)" stroke-width="6.2" transform="rotate(-60 720.8 474.4)" /></g>
<g clip-path="url(#cw2)"><ellipse cx="720.8" cy="474.4" rx="133.5" ry="62.6" fill="none" stroke="url(#g30)" stroke-width="6.2" transform="rotate(60 720.8 474.4)" /></g>
<g clip-path="url(#cw3)"><ellipse cx="720.8" cy="474.4" rx="133.5" ry="62.6" fill="none" stroke="url(#g30)" stroke-width="6.2" transform="rotate(60 720.8 474.4)" /></g>
<circle cx="586.9" cy="474.8" r="12" fill="#fdfdfe" stroke="#c2379d" stroke-width="1.8"/>
<circle cx="804.8" cy="383.2" r="15.2" fill="#fdfdfe" stroke="url(#g33)" stroke-width="1.8"/>
<circle cx="788.6" cy="590.4" r="19.8" fill="#fdfdfe" stroke="url(#g34)" stroke-width="1.8"/>
<polyline points="507.9,431.9 549.6,431.9 549.6,474.9 586.7,474.9" fill="none" stroke="#8d9498" stroke-width="1"/>
<circle cx="507.9" cy="431.9" r="2.6" fill="#8d9498"/>
<circle cx="586.7" cy="474.9" r="2.6" fill="#8d9498"/>
<polyline points="804.8,383.2 831.3,383.2 831.3,425.9 872.8,425.9" fill="none" stroke="#8d9498" stroke-width="1"/>
<circle cx="804.8" cy="383.2" r="2.6" fill="#8d9498"/>
<circle cx="872.8" cy="425.9" r="2.6" fill="#8d9498"/>
<polyline points="788.6,591.3 831.3,591.3 831.3,548.3 872.8,548.3" fill="none" stroke="#8d9498" stroke-width="1"/>
<circle cx="788.6" cy="591.3" r="2.6" fill="#8d9498"/>
<circle cx="872.8" cy="548.3" r="2.6" fill="#8d9498"/>
<text x="720.6" y="455.2" font-size="17.5" fill="#111" font-weight="bold" text-anchor="middle" textLength="81.5" lengthAdjust="spacingAndGlyphs">Your Title</text>
<text x="720.6" y="473.4" font-size="10" fill="#3c3c40" font-weight="normal" text-anchor="middle" >Pellentesque egestas,</text>
<text x="720.6" y="484.5" font-size="10" fill="#3c3c40" font-weight="normal" text-anchor="middle" >neque sit amet convallis</text>
<text x="720.6" y="495.6" font-size="10" fill="#3c3c40" font-weight="normal" text-anchor="middle" >pulvinar, justo nulla</text>
<text x="720.6" y="506.7" font-size="10" fill="#3c3c40" font-weight="normal" text-anchor="middle" >eleifend augue.</text>
<text x="456.8" y="437.6" font-size="21" fill="#df1f1f" font-weight="bold" text-anchor="start" textLength="24.1" lengthAdjust="spacingAndGlyphs">18</text>
<text x="486" y="437.4" font-size="13" fill="#df1f1f" font-weight="bold" text-anchor="start" textLength="10.4" lengthAdjust="spacingAndGlyphs">%</text>
<text x="456.8" y="457.5" font-size="9.65" fill="#333" font-weight="normal" text-anchor="start" >Etiam rhoncus.</text>
<text x="456.8" y="468.4" font-size="9.65" fill="#333" font-weight="normal" text-anchor="start" >Maecenas tempus,</text>
<text x="456.8" y="479.3" font-size="9.65" fill="#333" font-weight="normal" text-anchor="start" >tellus eget</text>
<text x="884.4" y="433.7" font-size="21" fill="#df1f1f" font-weight="bold" text-anchor="start" textLength="25.4" lengthAdjust="spacingAndGlyphs">32</text>
<text x="913" y="431" font-size="13" fill="#df1f1f" font-weight="bold" text-anchor="start" textLength="10.4" lengthAdjust="spacingAndGlyphs">%</text>
<text x="884.4" y="451.3" font-size="9.65" fill="#333" font-weight="normal" text-anchor="start" >Etiam rhoncus.</text>
<text x="884.4" y="462.2" font-size="9.65" fill="#333" font-weight="normal" text-anchor="start" >Maecenas tempus,</text>
<text x="884.4" y="473.1" font-size="9.65" fill="#333" font-weight="normal" text-anchor="start" >tellus eget</text>
<text x="884.4" y="556.8" font-size="21" fill="#df1f1f" font-weight="bold" text-anchor="start" textLength="25.4" lengthAdjust="spacingAndGlyphs">52</text>
<text x="913" y="554.6" font-size="13" fill="#df1f1f" font-weight="bold" text-anchor="start" textLength="10.4" lengthAdjust="spacingAndGlyphs">%</text>
<text x="884.4" y="574.4" font-size="9.65" fill="#333" font-weight="normal" text-anchor="start" >Etiam rhoncus.</text>
<text x="884.4" y="585.3" font-size="9.65" fill="#333" font-weight="normal" text-anchor="start" >Maecenas tempus,</text>
<text x="884.4" y="596.2" font-size="9.65" fill="#333" font-weight="normal" text-anchor="start" >tellus eget</text>
<g transform="translate(666.6,385.2) scale(0.56)"><path d="M-6.1,-17.2 Q0,-19.2 6.1,-17.2 L3,-11.6 L-3,-11.6 Z" fill="#6d7378"/><path d="M-3.2,-9.4 L3.2,-9.4 C8.5,-6 13.3,1.5 13.3,8.2 C13.3,14.4 9.4,16.6 5,16.6 L-5,16.6 C-9.4,16.6 -13.3,14.4 -13.3,8.2 C-13.3,1.5 -8.5,-6 -3.2,-9.4 Z" fill="#6d7378"/><text x="0" y="10.6" font-size="16.5" font-weight="bold" text-anchor="middle" fill="#eef1f4">$</text></g>
<g transform="translate(823.7,469.3) scale(0.82)"><circle cx="0" cy="0" r="6.9" fill="none" stroke="#6d7378" stroke-width="2.1"/><line x1="-5.4" y1="6.6" x2="-9.6" y2="11.8" stroke="#6d7378" stroke-width="3.6" stroke-linecap="round"/><path d="M-3.2,-3.6 A4.8,4.8 0 0 1 2.6,-4" fill="none" stroke="#6d7378" stroke-width="0.8" stroke-linecap="round"/></g>
<g transform="translate(667.2,565.4) scale(0.6)"><path d="M-4.6,7.4 C-4.6,4.8 -10.6,2.6 -10.6,-2.7 A10.6,10.6 0 1 1 10.6,-2.7 C10.6,2.6 4.6,4.8 4.6,7.4 Z" fill="#6d7378"/><path d="M-4.4,8.6 L4.4,8.6 L4.4,10.9 L-4.4,10.9 Z M-4.4,12.1 L4.4,12.1 L4.4,13.2 Q4.4,16.4 0,16.4 Q-4.4,16.4 -4.4,13.2 Z" fill="#6d7378"/><path d="M-5.6,-8.2 A7.6,7.6 0 0 0 -6.2,1.6" fill="none" stroke="#c9cdd2" stroke-width="1.1" stroke-linecap="round"/><line x1="0" y1="-15.5" x2="0" y2="-19.1" stroke="#6d7378" stroke-width="1.2" stroke-linecap="round"/><line x1="10.11" y1="-11.18" x2="12.87" y2="-13.5" stroke="#6d7378" stroke-width="1.2" stroke-linecap="round"/><line x1="-10.11" y1="-11.18" x2="-12.87" y2="-13.5" stroke="#6d7378" stroke-width="1.2" stroke-linecap="round"/><line x1="13.72" y1="-1.26" x2="17.3" y2="-0.88" stroke="#6d7378" stroke-width="1.2" stroke-linecap="round"/><line x1="-13.72" y1="-1.26" x2="-17.3" y2="-0.88" stroke="#6d7378" stroke-width="1.2" stroke-linecap="round"/></g>
<rect x="486.7" y="533.5" width="66.1" height="9.6" fill="url(#g35)"/>
<rect x="486.7" y="563.8" width="125.2" height="9.4" fill="url(#g36)"/>
<rect x="486.7" y="594.9" width="96.4" height="9.4" fill="url(#g37)"/>
<g transform="translate(469.3,537.4) scale(0.56)"><path d="M-6.1,-17.2 Q0,-19.2 6.1,-17.2 L3,-11.6 L-3,-11.6 Z" fill="#6d7378"/><path d="M-3.2,-9.4 L3.2,-9.4 C8.5,-6 13.3,1.5 13.3,8.2 C13.3,14.4 9.4,16.6 5,16.6 L-5,16.6 C-9.4,16.6 -13.3,14.4 -13.3,8.2 C-13.3,1.5 -8.5,-6 -3.2,-9.4 Z" fill="#6d7378"/><text x="0" y="10.6" font-size="16.5" font-weight="bold" text-anchor="middle" fill="#eef1f4">$</text></g>
<g transform="translate(470.8,566) scale(0.9)"><circle cx="0" cy="0" r="6.9" fill="none" stroke="#6d7378" stroke-width="2.1"/><line x1="-5.4" y1="6.6" x2="-9.6" y2="11.8" stroke="#6d7378" stroke-width="3.6" stroke-linecap="round"/><path d="M-3.2,-3.6 A4.8,4.8 0 0 1 2.6,-4" fill="none" stroke="#6d7378" stroke-width="0.8" stroke-linecap="round"/></g>
<g transform="translate(469,598.3) scale(0.61)"><path d="M-4.6,7.4 C-4.6,4.8 -10.6,2.6 -10.6,-2.7 A10.6,10.6 0 1 1 10.6,-2.7 C10.6,2.6 4.6,4.8 4.6,7.4 Z" fill="#6d7378"/><path d="M-4.4,8.6 L4.4,8.6 L4.4,10.9 L-4.4,10.9 Z M-4.4,12.1 L4.4,12.1 L4.4,13.2 Q4.4,16.4 0,16.4 Q-4.4,16.4 -4.4,13.2 Z" fill="#6d7378"/><path d="M-5.6,-8.2 A7.6,7.6 0 0 0 -6.2,1.6" fill="none" stroke="#c9cdd2" stroke-width="1.1" stroke-linecap="round"/><line x1="0" y1="-15.5" x2="0" y2="-19.1" stroke="#6d7378" stroke-width="1.2" stroke-linecap="round"/><line x1="10.11" y1="-11.18" x2="12.87" y2="-13.5" stroke="#6d7378" stroke-width="1.2" stroke-linecap="round"/><line x1="-10.11" y1="-11.18" x2="-12.87" y2="-13.5" stroke="#6d7378" stroke-width="1.2" stroke-linecap="round"/><line x1="13.72" y1="-1.26" x2="17.3" y2="-0.88" stroke="#6d7378" stroke-width="1.2" stroke-linecap="round"/><line x1="-13.72" y1="-1.26" x2="-17.3" y2="-0.88" stroke="#6d7378" stroke-width="1.2" stroke-linecap="round"/></g>
</g>
<g id="chain">
<path d="M840.28,745.7 a60.2,60.2 0 1 0 120.4,0 a60.2,60.2 0 1 0 -120.4,0 Z M866.08,745.7 a34.4,34.4 0 1 1 68.8,0 a34.4,34.4 0 1 1 -68.8,0 Z" fill="url(#g38)" fill-rule="evenodd"/>
<path d="M745.66,745.7 a60.2,60.2 0 1 0 120.4,0 a60.2,60.2 0 1 0 -120.4,0 Z M771.46,745.7 a34.4,34.4 0 1 1 68.8,0 a34.4,34.4 0 1 1 -68.8,0 Z" fill="url(#g39)" fill-rule="evenodd"/>
<path d="M851.86,725.1 L862.16,725.1 Q897.36,732.1 932.64,733.5 A34.4,34.4 0 0 1 932.64,757.9 Q897.36,759.3 862.16,766.3 L851.86,766.3 Z" fill="url(#g39)"/>
<path d="M651.04,745.7 a60.2,60.2 0 1 0 120.4,0 a60.2,60.2 0 1 0 -120.4,0 Z M676.84,745.7 a34.4,34.4 0 1 1 68.8,0 a34.4,34.4 0 1 1 -68.8,0 Z" fill="url(#g40)" fill-rule="evenodd"/>
<path d="M757.24,725.1 L767.54,725.1 Q802.74,732.1 838.02,733.5 A34.4,34.4 0 0 1 838.02,757.9 Q802.74,759.3 767.54,766.3 L757.24,766.3 Z" fill="url(#g40)"/>
<path d="M556.42,745.7 a60.2,60.2 0 1 0 120.4,0 a60.2,60.2 0 1 0 -120.4,0 Z M582.22,745.7 a34.4,34.4 0 1 1 68.8,0 a34.4,34.4 0 1 1 -68.8,0 Z" fill="url(#g41)" fill-rule="evenodd"/>
<path d="M662.62,725.1 L672.92,725.1 Q708.12,732.1 743.4,733.5 A34.4,34.4 0 0 1 743.4,757.9 Q708.12,759.3 672.92,766.3 L662.62,766.3 Z" fill="url(#g41)"/>
<path d="M461.8,745.7 a60.2,60.2 0 1 0 120.4,0 a60.2,60.2 0 1 0 -120.4,0 Z M487.6,745.7 a34.4,34.4 0 1 1 68.8,0 a34.4,34.4 0 1 1 -68.8,0 Z" fill="url(#g42)" fill-rule="evenodd"/>
<path d="M568,725.1 L578.3,725.1 Q613.5,732.1 648.78,733.5 A34.4,34.4 0 0 1 648.78,757.9 Q613.5,759.3 578.3,766.3 L568,766.3 Z" fill="url(#g42)"/>
<text x="615.2" y="750.3" font-size="9.8" fill="#fff" font-weight="bold" text-anchor="middle" >Option 01</text>
<text x="710" y="750.3" font-size="9.8" fill="#fff" font-weight="bold" text-anchor="middle" >Option 02</text>
<text x="805.8" y="750.3" font-size="9.8" fill="#fff" font-weight="bold" text-anchor="middle" >Option 03</text>
<text x="900.2" y="750.3" font-size="9.8" fill="#fff" font-weight="bold" text-anchor="middle" >Option 04</text>
<text transform="translate(479.2,742.9) rotate(-90)" font-size="9.8" font-weight="bold" fill="#fff" text-anchor="middle">Start</text>
<text transform="translate(951.6,745) rotate(-90)" font-size="9.8" font-weight="bold" fill="#fff" text-anchor="middle">Finish</text>
<text x="506.8" y="734.4" font-size="13.9" fill="#c81923" font-weight="bold" text-anchor="start" textLength="29.4" lengthAdjust="spacingAndGlyphs">Your</text>
<text x="506.8" y="750.7" font-size="13.9" fill="#c81923" font-weight="bold" text-anchor="start" textLength="30.0" lengthAdjust="spacingAndGlyphs">Main</text>
<text x="506.8" y="767" font-size="13.9" fill="#c81923" font-weight="bold" text-anchor="start" textLength="28.2" lengthAdjust="spacingAndGlyphs">Title</text>
<polyline points="486.9,676.2 520.2,676.2 520.2,697" fill="none" stroke="#858c91" stroke-width="1"/>
<circle cx="520.2" cy="697" r="2.6" fill="#858c91"/>
<text x="494.1" y="671" font-size="17.4" fill="#111" font-weight="bold" text-anchor="middle" textLength="11" lengthAdjust="spacingAndGlyphs">2</text>
<text x="505.8" y="672.3" font-size="18.0" fill="#111" font-weight="bold" text-anchor="middle" textLength="11" lengthAdjust="spacingAndGlyphs">5</text>
<text x="512.4" y="669.6" font-size="12.6" fill="#111" font-weight="bold" text-anchor="start" textLength="8.8" lengthAdjust="spacingAndGlyphs">%</text>
<polyline points="583.6,676.2 616.9,676.2 616.9,697" fill="none" stroke="#858c91" stroke-width="1"/>
<circle cx="616.9" cy="697" r="2.6" fill="#858c91"/>
<text x="590.9" y="672.3" font-size="18.0" fill="#111" font-weight="bold" text-anchor="middle" textLength="11" lengthAdjust="spacingAndGlyphs">4</text>
<text x="602" y="672.3" font-size="18.0" fill="#111" font-weight="bold" text-anchor="middle" textLength="11" lengthAdjust="spacingAndGlyphs">5</text>
<text x="608.6" y="669.6" font-size="12.6" fill="#111" font-weight="bold" text-anchor="start" textLength="8.8" lengthAdjust="spacingAndGlyphs">%</text>
<polyline points="677.2,676.2 710.5,676.2 710.5,697" fill="none" stroke="#858c91" stroke-width="1"/>
<circle cx="710.5" cy="697" r="2.6" fill="#858c91"/>
<text x="684.4" y="671" font-size="21.6" fill="#111" font-weight="bold" text-anchor="middle" textLength="11" lengthAdjust="spacingAndGlyphs">6</text>
<text x="696.2" y="672.3" font-size="18.0" fill="#111" font-weight="bold" text-anchor="middle" textLength="11" lengthAdjust="spacingAndGlyphs">5</text>
<text x="702.7" y="669.6" font-size="12.6" fill="#111" font-weight="bold" text-anchor="start" textLength="8.8" lengthAdjust="spacingAndGlyphs">%</text>
<polyline points="774.6,676.2 807.6,676.2 807.6,697" fill="none" stroke="#858c91" stroke-width="1"/>
<circle cx="807.6" cy="697" r="2.6" fill="#858c91"/>
<text x="781.2" y="671" font-size="21.6" fill="#111" font-weight="bold" text-anchor="middle" textLength="11" lengthAdjust="spacingAndGlyphs">8</text>
<text x="793.2" y="672.3" font-size="18.0" fill="#111" font-weight="bold" text-anchor="middle" textLength="11" lengthAdjust="spacingAndGlyphs">5</text>
<text x="799.8" y="669.6" font-size="12.6" fill="#111" font-weight="bold" text-anchor="start" textLength="8.8" lengthAdjust="spacingAndGlyphs">%</text>
<polyline points="867,676.2 899.8,676.2 899.8,697" fill="none" stroke="#858c91" stroke-width="1"/>
<circle cx="899.8" cy="697" r="2.6" fill="#858c91"/>
<text x="873" y="672.3" font-size="18.0" fill="#111" font-weight="bold" text-anchor="middle" textLength="11" lengthAdjust="spacingAndGlyphs">9</text>
<text x="884.6" y="672.3" font-size="18.0" fill="#111" font-weight="bold" text-anchor="middle" textLength="11" lengthAdjust="spacingAndGlyphs">9</text>
<text x="891.4" y="669.6" font-size="12.6" fill="#111" font-weight="bold" text-anchor="start" textLength="8.8" lengthAdjust="spacingAndGlyphs">%</text>
<g transform="translate(520.8,793.8) scale(0.45)"><path d="M-6.1,-17.2 Q0,-19.2 6.1,-17.2 L3,-11.6 L-3,-11.6 Z" fill="#fff"/><path d="M-3.2,-9.4 L3.2,-9.4 C8.5,-6 13.3,1.5 13.3,8.2 C13.3,14.4 9.4,16.6 5,16.6 L-5,16.6 C-9.4,16.6 -13.3,14.4 -13.3,8.2 C-13.3,1.5 -8.5,-6 -3.2,-9.4 Z" fill="#fff"/><text x="0" y="10.6" font-size="16.5" font-weight="bold" text-anchor="middle" fill="#6a5aae">$</text></g>
<g transform="translate(615.2,792.8)"><path d="M-2.1,-7.4 L-2.1,-2.2 L-6.4,6.2 Q-6.9,7.6 -5.4,7.6 L5.4,7.6 Q6.9,7.6 6.4,6.2 L2.1,-2.2 L2.1,-7.4" fill="none" stroke="#fff" stroke-width="1.2" stroke-linejoin="round"/><line x1="-3.2" y1="-7.6" x2="3.2" y2="-7.6" stroke="#fff" stroke-width="1.3" stroke-linecap="round"/><path d="M-3.6,1.8 L3.6,1.8 L5.6,5.8 Q5.8,6.6 5,6.6 L-5,6.6 Q-5.8,6.6 -5.6,5.8 Z" fill="#fff"/></g>
<g transform="translate(709,792.6) scale(0.96)"><circle cx="0" cy="0" r="8.6" fill="none" stroke="#fff" stroke-width="1.3"/><line x1="5.6" y1="0" x2="6.9" y2="0" stroke="#fff" stroke-width="1.1"/><line x1="0" y1="5.6" x2="0" y2="6.9" stroke="#fff" stroke-width="1.1"/><line x1="-5.6" y1="0" x2="-6.9" y2="0" stroke="#fff" stroke-width="1.1"/><line x1="-0" y1="-5.6" x2="-0" y2="-6.9" stroke="#fff" stroke-width="1.1"/><path d="M0,-4.6 L0,0 L-4.6,3.6" fill="none" stroke="#fff" stroke-width="1.2" stroke-linecap="round" stroke-linejoin="round"/></g>
<g transform="translate(804,792.8)"><path d="M-7.3,-2.6 A7.3,2 0 0 0 7.3,-2.6" fill="none" stroke="#fff" stroke-width="1.25"/><path d="M-7.3,0.2 A7.3,2 0 0 0 7.3,0.2" fill="none" stroke="#fff" stroke-width="1.25"/><path d="M-7.3,3 A7.3,2 0 0 0 7.3,3" fill="none" stroke="#fff" stroke-width="1.25"/><path d="M-7.3,5.2 A7.3,2 0 0 0 7.3,5.2" fill="none" stroke="#fff" stroke-width="1.25"/><path d="M-7.3,-5 L-7.3,5.2 M7.3,-5 L7.3,5.2" stroke="#fff" stroke-width="0.9" fill="none"/><ellipse cx="0" cy="-5.1" rx="7.3" ry="2" fill="none" stroke="#fff" stroke-width="1.2"/></g>
<g transform="translate(899.6,791.8) scale(0.51)"><path d="M-4.6,7.4 C-4.6,4.8 -10.6,2.6 -10.6,-2.7 A10.6,10.6 0 1 1 10.6,-2.7 C10.6,2.6 4.6,4.8 4.6,7.4 Z" fill="#fff"/><path d="M-4.4,8.6 L4.4,8.6 L4.4,10.9 L-4.4,10.9 Z M-4.4,12.1 L4.4,12.1 L4.4,13.2 Q4.4,16.4 0,16.4 Q-4.4,16.4 -4.4,13.2 Z" fill="#fff"/><path d="M-5.6,-8.2 A7.6,7.6 0 0 0 -6.2,1.6" fill="none" stroke="#5a55aa" stroke-width="1.1" stroke-linecap="round"/><line x1="0" y1="-15.5" x2="0" y2="-19.1" stroke="#fff" stroke-width="1.2" stroke-linecap="round"/><line x1="10.11" y1="-11.18" x2="12.87" y2="-13.5" stroke="#fff" stroke-width="1.2" stroke-linecap="round"/><line x1="-10.11" y1="-11.18" x2="-12.87" y2="-13.5" stroke="#fff" stroke-width="1.2" stroke-linecap="round"/><line x1="13.72" y1="-1.26" x2="17.3" y2="-0.88" stroke="#fff" stroke-width="1.2" stroke-linecap="round"/><line x1="-13.72" y1="-1.26" x2="-17.3" y2="-0.88" stroke="#fff" stroke-width="1.2" stroke-linecap="round"/></g>
<path d="M480.86,801.71 A69.5,69.5 0 0 0 557.8,805.27" fill="none" stroke="#858c91" stroke-width="2.1" stroke-linecap="round" stroke-dasharray="0.1 4.05"/>
<path d="M565.89,798.94 L564.97,805.94 L561.93,802.9 L558.89,799.86 Z" fill="#858c91"/>
<path d="M575.48,801.71 A69.5,69.5 0 0 0 652.42,805.27" fill="none" stroke="#858c91" stroke-width="2.1" stroke-linecap="round" stroke-dasharray="0.1 4.05"/>
<path d="M660.51,798.94 L659.59,805.94 L656.55,802.9 L653.51,799.86 Z" fill="#858c91"/>
<path d="M670.1,801.71 A69.5,69.5 0 0 0 747.04,805.27" fill="none" stroke="#858c91" stroke-width="2.1" stroke-linecap="round" stroke-dasharray="0.1 4.05"/>
<path d="M755.13,798.94 L754.21,805.94 L751.17,802.9 L748.13,799.86 Z" fill="#858c91"/>
<path d="M764.72,801.71 A69.5,69.5 0 0 0 841.66,805.27" fill="none" stroke="#858c91" stroke-width="2.1" stroke-linecap="round" stroke-dasharray="0.1 4.05"/>
<path d="M849.75,798.94 L848.83,805.94 L845.79,802.9 L842.75,799.86 Z" fill="#858c91"/>
<path d="M859.34,801.71 A69.5,69.5 0 0 0 936.28,805.27" fill="none" stroke="#858c91" stroke-width="2.1" stroke-linecap="round" stroke-dasharray="0.1 4.05"/>
<path d="M944.37,798.94 L943.45,805.94 L940.41,802.9 L937.37,799.86 Z" fill="#858c91"/>
</g>
<g id="pie-big">
<path d="M236,648.4 L236,463.9 A184.5,184.5 0 1 1 142.36,807.37 Z" fill="url(#g43)"/>
<path d="M236,648.4 L142.36,807.37 A184.5,184.5 0 0 1 52.72,627.19 Z" fill="url(#g44)"/>
<path d="M236,648.4 L52.72,627.19 A184.5,184.5 0 0 1 89.24,536.6 Z" fill="url(#g45)"/>
<path d="M236,648.4 L89.24,536.6 A184.5,184.5 0 0 1 236,463.9 Z" fill="url(#g46)"/>
<line x1="236" y1="648.4" x2="236" y2="461.9" stroke="#d6dde2" stroke-width="3.7"/>
<line x1="236" y1="648.4" x2="141.34" y2="809.09" stroke="#d6dde2" stroke-width="3.7"/>
<line x1="236" y1="648.4" x2="50.74" y2="626.96" stroke="#d6dde2" stroke-width="3.7"/>
<line x1="236" y1="648.4" x2="87.64" y2="535.38" stroke="#d6dde2" stroke-width="3.7"/>
<circle cx="236" cy="648.4" r="1.6" fill="#d6dde2"/>
<text x="342.5" y="683" font-size="25" fill="#fff" font-weight="bold" text-anchor="middle" textLength="55" lengthAdjust="spacingAndGlyphs">59%</text>
<text x="182.6" y="531.4" font-size="25" fill="#fff" font-weight="bold" text-anchor="middle" textLength="53.3" lengthAdjust="spacingAndGlyphs">13%</text>
<text x="108.4" y="607.3" font-size="25" fill="#fff" font-weight="bold" text-anchor="middle" textLength="54.6" lengthAdjust="spacingAndGlyphs">10%</text>
<text x="136.7" y="708.6" font-size="25" fill="#fff" font-weight="bold" text-anchor="middle" textLength="52.7" lengthAdjust="spacingAndGlyphs">18%</text>
<text transform="translate(29.3,722.8) rotate(-90)" font-size="18" fill="#3b3d40" stroke="#3b3d40" stroke-width="0.45" text-anchor="middle" textLength="221" lengthAdjust="spacingAndGlyphs">Adobe Stock | #356575587</text>
</g>
<g id="wm" font-size="25.9" font-weight="bold" fill="#ffffff" fill-opacity="0.15">
<text transform="translate(-115.8,14.3) rotate(-43)">Adobe Stock</text>
<text transform="translate(9.8,59.9) rotate(-43)">Adobe Stock</text>
<text transform="translate(-104.3,342.5) rotate(-43)">Adobe Stock</text>
<text transform="translate(55.5,184.5) rotate(-43)">Adobe Stock</text>
<text transform="translate(215.3,26.5) rotate(-43)">Adobe Stock</text>
<text transform="translate(21.3,388.1) rotate(-43)">Adobe Stock</text>
<text transform="translate(181.1,230.1) rotate(-43)">Adobe Stock</text>
<text transform="translate(340.9,72.1) rotate(-43)">Adobe Stock</text>
<text transform="translate(-92.8,670.7) rotate(-43)">Adobe Stock</text>
<text transform="translate(67,512.7) rotate(-43)">Adobe Stock</text>
<text transform="translate(226.8,354.7) rotate(-43)">Adobe Stock</text>
<text transform="translate(386.6,196.7) rotate(-43)">Adobe Stock</text>
<text transform="translate(546.4,38.7) rotate(-43)">Adobe Stock</text>
<text transform="translate(-127,874.3) rotate(-43)">Adobe Stock</text>
<text transform="translate(32.8,716.3) rotate(-43)">Adobe Stock</text>
<text transform="translate(192.6,558.3) rotate(-43)">Adobe Stock</text>
<text transform="translate(352.4,400.3) rotate(-43)">Adobe Stock</text>
<text transform="translate(512.2,242.3) rotate(-43)">Adobe Stock</text>
<text transform="translate(672,84.3) rotate(-43)">Adobe Stock</text>
<text transform="translate(78.5,840.9) rotate(-43)">Adobe Stock</text>
<text transform="translate(238.3,682.9) rotate(-43)">Adobe Stock</text>
<text transform="translate(398.1,524.9) rotate(-43)">Adobe Stock</text>
<text transform="translate(557.9,366.9) rotate(-43)">Adobe Stock</text>
<text transform="translate(717.7,208.9) rotate(-43)">Adobe Stock</text>
<text transform="translate(877.5,50.9) rotate(-43)">Adobe Stock</text>
<text transform="translate(204.1,886.5) rotate(-43)">Adobe Stock</text>
<text transform="translate(363.9,728.5) rotate(-43)">Adobe Stock</text>
<text transform="translate(523.7,570.5) rotate(-43)">Adobe Stock</text>
<text transform="translate(683.5,412.5) rotate(-43)">Adobe Stock</text>
<text transform="translate(843.3,254.5) rotate(-43)">Adobe Stock</text>
<text transform="translate(1003.1,96.5) rotate(-43)">Adobe Stock</text>
<text transform="translate(409.6,853.1) rotate(-43)">Adobe Stock</text>
<text transform="translate(569.4,695.1) rotate(-43)">Adobe Stock</text>
<text transform="translate(729.2,537.1) rotate(-43)">Adobe Stock</text>
<text transform="translate(889,379.1) rotate(-43)">Adobe Stock</text>
<text transform="translate(535.2,898.7) rotate(-43)">Adobe Stock</text>
<text transform="translate(695,740.7) rotate(-43)">Adobe Stock</text>
<text transform="translate(854.8,582.7) rotate(-43)">Adobe Stock</text>
<text transform="translate(740.7,865.3) rotate(-43)">Adobe Stock</text>
<text transform="translate(900.5,707.3) rotate(-43)">Adobe Stock</text>
<text transform="translate(866.3,910.9) rotate(-43)">Adobe Stock</text>
</g>
</svg>
</body></html>
